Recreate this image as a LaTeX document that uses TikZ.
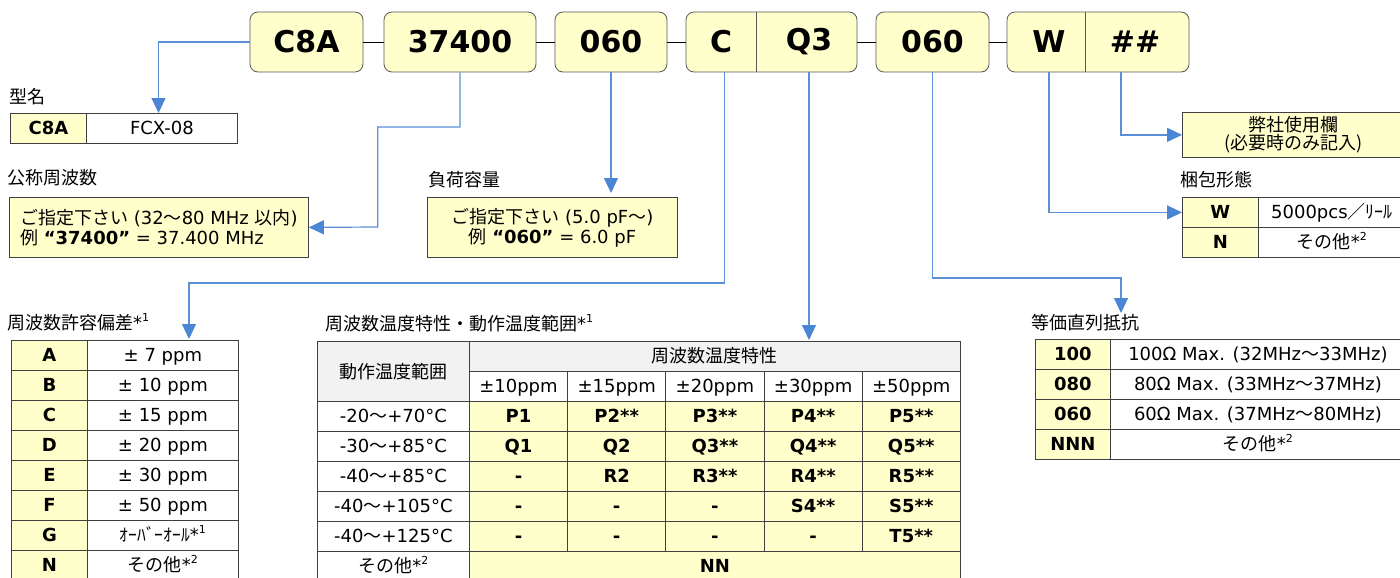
\documentclass[tikz,border=0pt]{standalone}
\usepackage{fontspec}
\setmainfont{DejaVu Sans}
\newfontfamily\jp{Noto Sans CJK JP}
\usetikzlibrary{arrows.meta}
\definecolor{ylw}{HTML}{FFFFCC}
\definecolor{gry}{HTML}{F2F2F2}
\definecolor{lblue}{HTML}{5B8FD8}
\definecolor{ablue}{HTML}{4A86D4}
\definecolor{bord}{HTML}{404040}
\definecolor{tbord}{HTML}{595959}
\newcommand{\fsz}{\fontsize{18}{20}\selectfont}
\newcommand{\supx}[1]{\raisebox{0.45em}{\fontsize{11}{11}\selectfont #1}}
\newcommand{\tld}{{\jp ～}}
\begin{document}
\begin{tikzpicture}[x=1pt,y=-1pt,
  every node/.style={font=\fsz, inner sep=0pt},
  box/.style 2 args={draw=bord, line width=0.8pt, minimum width=#1, minimum height=#2, anchor=north west},
  cell/.style 2 args={box={#1}{#2}, text height=16pt, text depth=3pt},
  yc/.style={fill=ylw, font=\fsz\bfseries},
  gc/.style={fill=gry},
  wc/.style={fill=white},
  topbox/.style={draw=tbord, line width=0.8pt, fill=ylw, rounded corners=8pt, minimum height=60},
  topt/.style={font=\fontsize{30}{30}\selectfont\bfseries},
  ttl/.style={anchor=west},
  conn/.style={draw=lblue, line width=1.2pt, -{Triangle[width=14pt,length=15pt,color=ablue]}},
  blk/.style={draw=black, line width=0.9pt},
]
\useasboundingbox (0,0) rectangle (1400,578);
\clip (0,0) rectangle (1400,578);
\fill[white] (0,0) rectangle (1400,578);

% ---- top code boxes
\node[topbox, topt, minimum width=113] (b1) at (306.5,42) {C8A};
\node[topbox, topt, minimum width=152] (b2) at (460,42) {37400};
\node[topbox, topt, minimum width=112] (b3) at (611,42) {060};
\node[topbox, minimum width=171] (b4) at (771.5,42) {};
\node[topt] (b4c) at (721,42) {C};
\node[topt] (b4q) at (809,42) {Q3};
\coordinate (b4d) at (756,42);
\draw[draw=tbord, line width=0.8pt] (b4.north -| b4d) -- (b4.south -| b4d);
\node[topbox, topt, minimum width=113] (b5) at (932.5,42) {060};
\node[topbox, minimum width=182] (b6) at (1098,42) {};
\node[topt] (b6w) at (1049,42) {W};
\node[topt] (b6h) at (1135,42) {\#\#};
\coordinate (b6d) at (1085,42);
\coordinate (b6hc) at (1121,42);
\draw[draw=tbord, line width=0.8pt] (b6.north -| b6d) -- (b6.south -| b6d);
\draw[blk] (b1.east) -- (b2.west);
\draw[blk] (b2.east) -- (b3.west);
\draw[blk] (b3.east) -- (b4.west);
\draw[blk] (b4.east) -- (b5.west);
\draw[blk] (b5.east) -- (b6.west);

% ---- titles
\node[ttl] (ti1) at (9,97) {\jp 型名};
\node[ttl] (ti2) at (7,178) {\jp 公称周波数};
\node[ttl] (ti3) at (428,180) {\jp 負荷容量};
\node[ttl] (ti4) at (7,322) {{\jp 周波数許容偏差}*\supx{1}};
\node[ttl] (ti5) at (325,323) {{\jp 周波数温度特性・動作温度範囲}*\supx{1}};
\node[ttl] (ti6) at (1180,180) {\jp 梱包形態};
\node[ttl] (ti7) at (1031,323) {\jp 等価直列抵抗};

% ---- type table
\node[cell={76}{30}, yc] (tyk) at (10,113) {C8A};
\node[cell={151}{30}, wc] (tyv) at (86,113) {FCX-08};

% ---- frequency box
\node[box={299}{60}, fill=ylw, align=left] (fbox) at (9,197)
  {{\jp ご指定下さい} (32\tld80 MHz {\jp 以内})\\{\jp 例} {\bfseries “37400”} = 37.400 MHz};

% ---- load capacitance box
\node[box={250}{60}, fill=ylw, align=center] (lbox) at (427,197)
  {{\jp ご指定下さい} (5.0 pF\tld)\\{\jp 例} {\bfseries “060”} = 6.0 pF};

% ---- company use box
\node[box={223}{45}, fill=ylw, align=center, font=\jp\fontsize{18}{18}\selectfont] (ubox) at (1182,112)
  {弊社使用欄\\(必要時のみ記入)};

% ---- packing table
\node[cell={76}{30}, yc] (pk0) at (1182,197) {W};
\node[cell={147}{30}, wc] (pv0) at (1258,197) {5000pcs{\jp ／ﾘｰﾙ}};
\node[cell={76}{30}, yc] (pk1) at (1182,227) {N};
\node[cell={147}{30}, wc] (pv1) at (1258,227) {{\jp その他}*\supx{2}};

% ---- tolerance table
\foreach \k/\v [count=\i from 0] in {A/{± 7 ppm}, B/{± 10 ppm}, C/{± 15 ppm}, D/{± 20 ppm}, E/{± 30 ppm}, F/{± 50 ppm}, G/{{\jp\fontsize{17.5}{18}\selectfont ｵｰﾊﾞｰｵｰﾙ}*\supx{1}}, N/{{\jp その他}*\supx{2}}} {
  \node[cell={76}{30}, yc] (tk\i) at (11,340+30*\i) {\k};
  \node[cell={151}{30}, wc] (tv\i) at (87,340+30*\i) {\v};
}

% ---- temperature table
\node[box={152}{60}, gc] (th0) at (317,341) {\jp 動作温度範囲};
\node[cell={491}{30}, gc] (th1) at (469,341) {\jp 周波数温度特性};
\foreach \p [count=\j from 0] in {10,15,20,30,50} {
  \node[cell={98.2}{30}, wc] (tp\j) at (469+98.2*\j,371) {±\p ppm};
}
\foreach \lab/\a/\b/\c/\d/\e [count=\r from 0] in {
  -20\tld+70°C/P1/P2**/P3**/P4**/P5**,
  -30\tld+85°C/Q1/Q2/Q3**/Q4**/Q5**,
  -40\tld+85°C/-/R2/R3**/R4**/R5**,
  -40\tld+105°C/-/-/-/S4**/S5**,
  -40\tld+125°C/-/-/-/-/T5**} {
  \node[cell={152}{30}, wc] (tr\r) at (317,401+30*\r) {\lab};
  \foreach \v [count=\j from 0] in {\a,\b,\c,\d,\e} {
    \node[cell={98.2}{30}, yc] (td\r-\j) at (469+98.2*\j,401+30*\r) {\v};
  }
}
\node[cell={152}{30}, wc] (tro) at (317,551) {{\jp その他}*\supx{2}};
\node[cell={491}{30}, yc] (tnn) at (469,551) {NN};

% ---- ESR table
\foreach \k/\v [count=\i from 0] in {100/{100Ω Max. (32MHz\tld33MHz)}, 080/{80Ω Max. (33MHz\tld37MHz)}, 060/{60Ω Max. (37MHz\tld80MHz)}, NNN/{{\jp その他}*\supx{2}}} {
  \node[cell={75}{30}, yc] (ek\i) at (1035,339+30*\i) {\k};
  \node[cell={295}{30}, wc] (ev\i) at (1110,339+30*\i) {\v};
}

% ---- connectors
\coordinate (c1) at (158.5,113);
\draw[conn] (b1.west) -| (c1);
\coordinate (c2a) at (377.7,127);
\coordinate (c2b) at (377.7,227);
\draw[conn] (b2.south) |- (c2a) -- (c2b) -- (fbox.east);
\coordinate (c3) at (611,193);
\draw[conn] (b3.south) -- (c3);
\coordinate (c4a) at (189,283);
\coordinate (c4) at (189,339);
\draw[conn] ([xshift=3.5pt]b4c |- b4.south) |- (c4a) -- (c4);
\coordinate (c5) at (809,340);
\draw[conn] (b4q |- b4.south) -- (c5);
\coordinate (c6a) at (1121,278);
\coordinate (c6) at (1121,313);
\draw[conn] (b5.south) |- (c6a) -- (c6);
\draw[conn] (b6w |- b6.south) |- (pk0.west);
\draw[conn] (b6hc |- b6.south) |- (ubox.west);
\end{tikzpicture}
\end{document}
